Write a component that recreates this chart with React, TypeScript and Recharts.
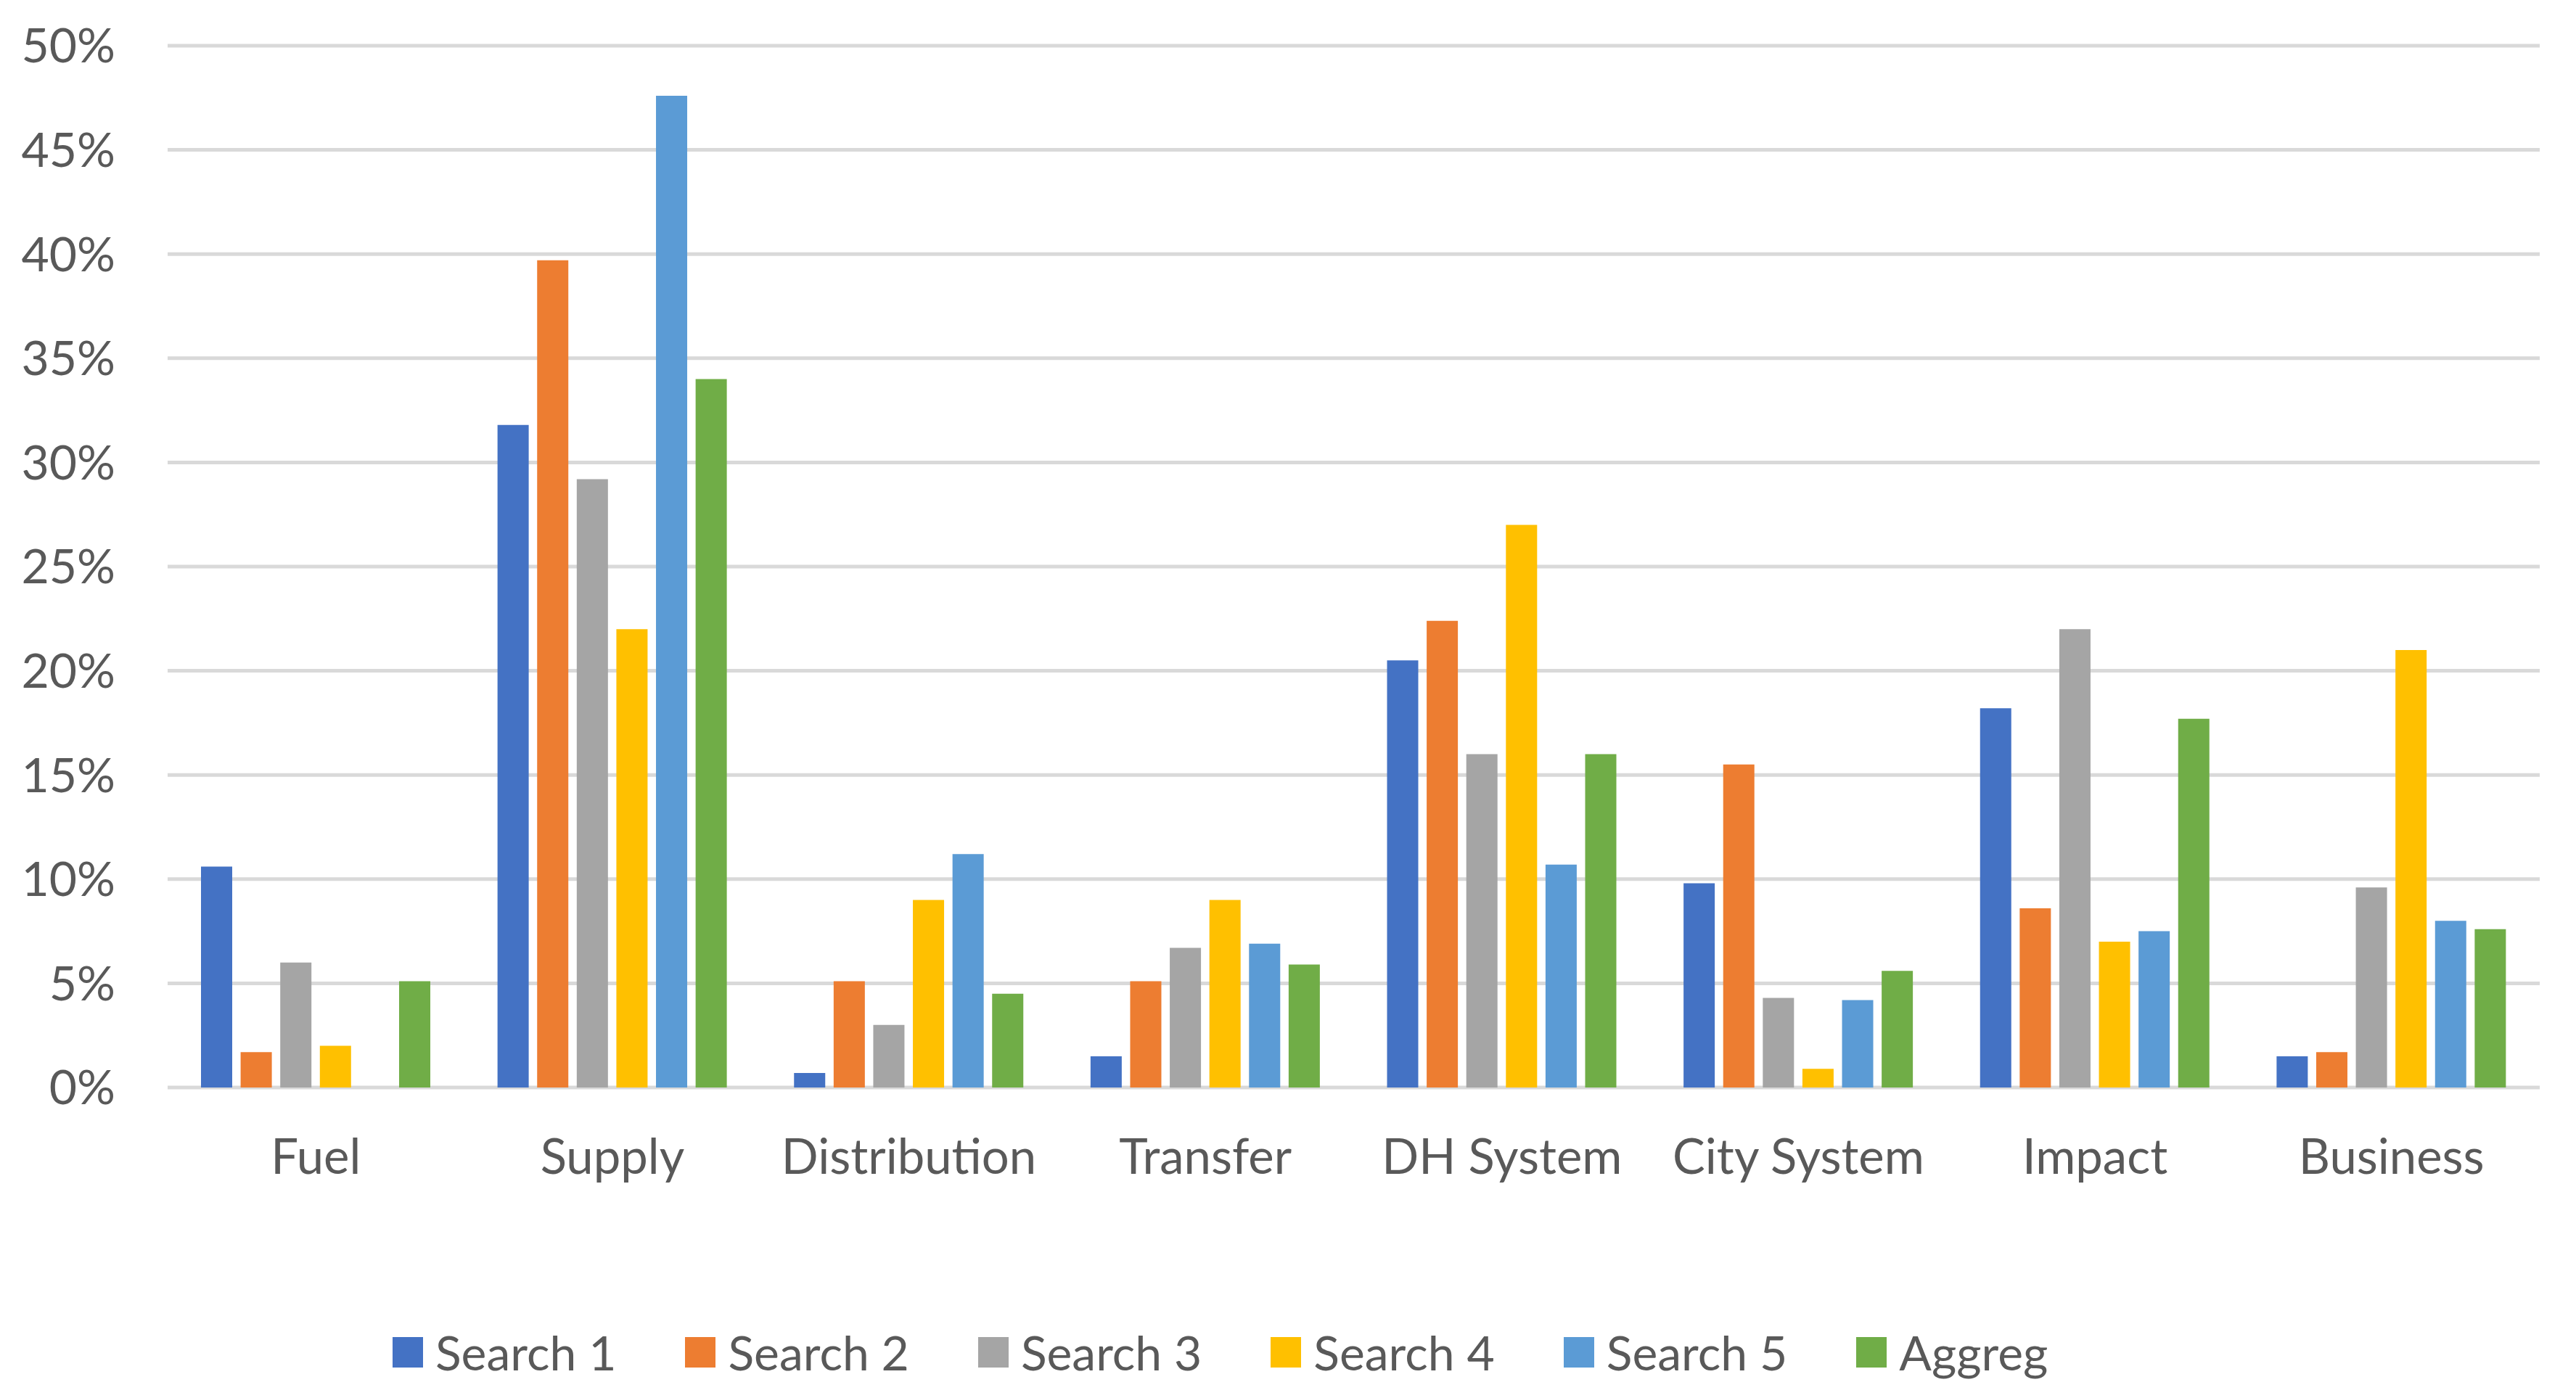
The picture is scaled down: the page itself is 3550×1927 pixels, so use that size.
import React from 'react'
import { BarChart, Bar, XAxis, YAxis, CartesianGrid } from 'recharts'

const categories = ['Fuel', 'Supply', 'Distribution', 'Transfer', 'DH System', 'City System', 'Impact', 'Business']
const search1 = [10.6, 31.8, 0.7, 1.5, 20.5, 9.8, 18.2, 1.5]
const search2 = [1.7, 39.7, 5.1, 5.1, 22.4, 15.5, 8.6, 1.7]
const search3 = [6.0, 29.2, 3.0, 6.7, 16.0, 4.3, 22.0, 9.6]
const search4 = [2.0, 22.0, 9.0, 9.0, 27.0, 0.9, 7.0, 21.0]
const search5 = [0, 47.6, 11.2, 6.9, 10.7, 4.2, 7.5, 8.0]
const aggreg = [5.1, 34.0, 4.5, 5.9, 16.0, 5.6, 17.7, 7.6]
const yTicks = [0, 5, 10, 15, 20, 25, 30, 35, 40, 45, 50]

const series = [
  { key: 's1', name: 'Search 1', color: '#4472C4', values: search1 },
  { key: 's2', name: 'Search 2', color: '#ED7D31', values: search2 },
  { key: 's3', name: 'Search 3', color: '#A5A5A5', values: search3 },
  { key: 's4', name: 'Search 4', color: '#FFC000', values: search4 },
  { key: 's5', name: 'Search 5', color: '#5B9BD5', values: search5 },
  { key: 'ag', name: 'Aggreg', color: '#70AD47', values: aggreg },
]

const data = categories.map((c, i) => {
  const row: Record<string, string | number> = { name: c }
  series.forEach(s => { row[s.key] = s.values[i] })
  return row
})

const FONT = 'Lato, "Open Sans", sans-serif'
const TEXT = '#595959'

export default function App() {
  return (
    <div style={{ position: 'absolute', left: 0, top: 0, width: 3550, height: 1927, background: '#fff' }}>
      <BarChart
        width={3550}
        height={1927}
        data={data}
        margin={{ top: 63, right: 50, bottom: 308, left: 0 }}
        barSize={43}
        barGap={11.6}
      >
        <CartesianGrid vertical={false} stroke="#d9d9d9" strokeWidth={5} />
        <XAxis
          dataKey="name"
          height={120}
          axisLine={false}
          tickLine={false}
          tickMargin={65}
          tick={{ fill: TEXT, fontSize: 67, fontFamily: FONT }}
          interval={0}
        />
        <YAxis
          width={231}
          domain={[0, 50]}
          ticks={yTicks}
          axisLine={false}
          tickLine={false}
          tickMargin={66}
          tickFormatter={(v: number) => `${v}%`}
          tick={{ fill: TEXT, fontSize: 66, fontFamily: FONT }}
        />
        {series.map(s => (
          <Bar key={s.key} dataKey={s.key} name={s.name} fill={s.color} isAnimationActive={false} />
        ))}
      </BarChart>
      {/* legend */}
      <div
        style={{
          position: 'absolute',
          left: 541,
          top: 1830,
          display: 'flex',
          alignItems: 'center',
          fontFamily: FONT,
          fontSize: 66,
          color: TEXT,
          lineHeight: '68px',
          whiteSpace: 'nowrap',
        }}
      >
        {series.map(s => (
          <div key={s.key} style={{ display: 'flex', alignItems: 'center', marginRight: 95 }}>
            <div style={{ width: 42, height: 42, background: s.color, marginRight: 17 }} />
            <span>{s.name}</span>
          </div>
        ))}
      </div>
    </div>
  )
}
